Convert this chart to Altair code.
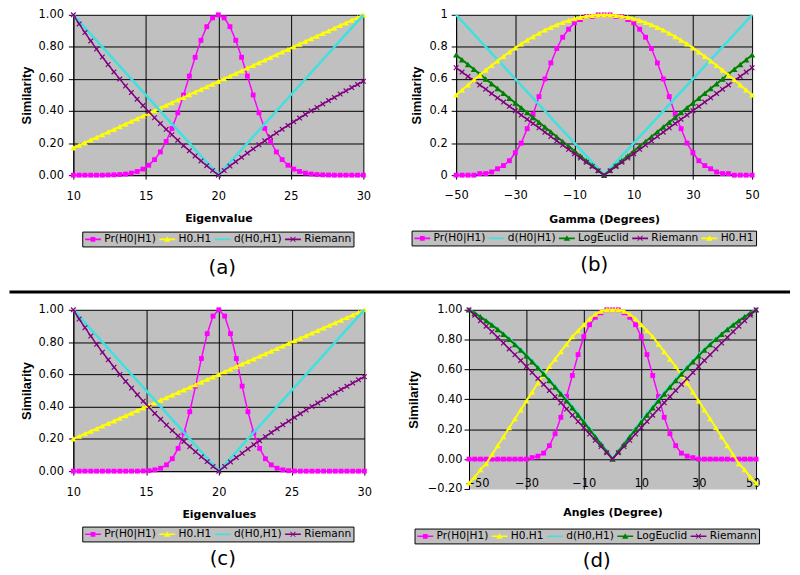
import altair as alt
import pandas as pd

# ---------------- data ----------------
eig_x = [10.0, 10.4, 10.8, 11.2, 11.6, 12.0, 12.4, 12.8, 13.2, 13.6,
         14.0, 14.4, 14.8, 15.2, 15.6, 16.0, 16.4, 16.8, 17.2, 17.6,
         18.0, 18.4, 18.8, 19.2, 19.6, 20.0, 20.4, 20.8, 21.2, 21.6,
         22.0, 22.4, 22.8, 23.2, 23.6, 24.0, 24.4, 24.8, 25.2, 25.6,
         26.0, 26.4, 26.8, 27.2, 27.6, 28.0, 28.4, 28.8, 29.2, 29.6, 30.0]
eig_v_x = [10, 20, 30]
eig_v_y = [1.0, 0.0, 1.0]

# (a) left half of the Gaussian (x = 10 .. 20)
a_pr_left = [0.000, 0.000, 0.000, 0.000, 0.000, 0.000, 0.001, 0.002, 0.004, 0.007,
             0.013, 0.023, 0.038, 0.062, 0.097, 0.145, 0.210, 0.291, 0.389, 0.500,
             0.618, 0.735, 0.841, 0.926, 0.981, 1.000]
a_h0h1 = [0.170, 0.187, 0.203, 0.220, 0.236, 0.253, 0.270, 0.286, 0.303, 0.319,
          0.336, 0.353, 0.369, 0.386, 0.402, 0.419, 0.436, 0.452, 0.469, 0.485,
          0.502, 0.519, 0.535, 0.552, 0.568, 0.585, 0.602, 0.618, 0.635, 0.651,
          0.668, 0.685, 0.701, 0.718, 0.734, 0.751, 0.768, 0.784, 0.801, 0.817,
          0.834, 0.851, 0.867, 0.884, 0.900, 0.917, 0.934, 0.950, 0.967, 0.983, 1.000]
a_riemann = [1.000, 0.943, 0.889, 0.837, 0.786, 0.737, 0.690, 0.644, 0.599, 0.556,
             0.515, 0.474, 0.434, 0.396, 0.358, 0.322, 0.286, 0.252, 0.218, 0.184,
             0.152, 0.120, 0.089, 0.059, 0.029, 0.000, 0.029, 0.057, 0.084, 0.111,
             0.138, 0.164, 0.189, 0.214, 0.239, 0.263, 0.287, 0.310, 0.333, 0.356,
             0.379, 0.401, 0.422, 0.444, 0.465, 0.485, 0.506, 0.526, 0.546, 0.566, 0.585]

# (c)
c_pr_left = [0.000, 0.000, 0.000, 0.000, 0.000, 0.000, 0.000, 0.000, 0.000, 0.000,
             0.000, 0.000, 0.001, 0.003, 0.008, 0.018, 0.039, 0.077, 0.141, 0.237,
             0.368, 0.527, 0.698, 0.852, 0.961, 1.000]
c_h0h1 = [0.200, 0.216, 0.232, 0.248, 0.264, 0.280, 0.296, 0.312, 0.328, 0.344,
          0.360, 0.376, 0.392, 0.408, 0.424, 0.440, 0.456, 0.472, 0.488, 0.504,
          0.520, 0.536, 0.552, 0.568, 0.584, 0.600, 0.616, 0.632, 0.648, 0.664,
          0.680, 0.696, 0.712, 0.728, 0.744, 0.760, 0.776, 0.792, 0.808, 0.824,
          0.840, 0.856, 0.872, 0.888, 0.904, 0.920, 0.936, 0.952, 0.968, 0.984, 1.000]
c_riemann = a_riemann

ang_x = [-50, -48, -46, -44, -42, -40, -38, -36, -34, -32, -30, -28, -26, -24, -22,
         -20, -18, -16, -14, -12, -10, -8, -6, -4, -2, 0, 2, 4, 6, 8, 10, 12, 14,
         16, 18, 20, 22, 24, 26, 28, 30, 32, 34, 36, 38, 40, 42, 44, 46, 48, 50]
ang_v_x = [-50, 0, 50]
ang_v_y = [1.0, 0.0, 1.0]

# halves for angle 0, 2, ..., 50 (curves are symmetric about 0)
b_pr_half = [1.00, 1.00, 0.99, 0.99, 0.97, 0.95, 0.91, 0.86, 0.79, 0.70, 0.60, 0.49, 0.38,
             0.29, 0.20, 0.14, 0.09, 0.06, 0.04, 0.02, 0.01, 0.01, 0.00, 0.00, 0.00, 0.00]
b_h0h1_half = [1.000, 0.999, 0.996, 0.991, 0.984, 0.976, 0.965, 0.952, 0.938, 0.922, 0.905,
               0.885, 0.864, 0.842, 0.819, 0.794, 0.768, 0.741, 0.713, 0.684, 0.655, 0.624,
               0.594, 0.563, 0.531, 0.500]
b_log_half = [0.00, 0.03, 0.06, 0.09, 0.12, 0.15, 0.18, 0.21, 0.24, 0.27, 0.30, 0.33, 0.36,
              0.39, 0.42, 0.45, 0.48, 0.51, 0.54, 0.57, 0.60, 0.63, 0.66, 0.69, 0.72, 0.75]
b_rie_half = [0.000, 0.027, 0.054, 0.080, 0.107, 0.134, 0.161, 0.188, 0.214, 0.241, 0.268,
              0.295, 0.322, 0.348, 0.375, 0.402, 0.429, 0.456, 0.482, 0.509, 0.536, 0.563,
              0.590, 0.616, 0.643, 0.670]

d_pr_half = [1.00, 1.00, 0.98, 0.95, 0.90, 0.82, 0.70, 0.56, 0.42, 0.28, 0.17, 0.09, 0.04,
             0.02, 0.01, 0.00, 0.00, 0.00, 0.00, 0.00, 0.00, 0.00, 0.00, 0.00, 0.00, 0.00]
d_h0h1_half = [1.00, 1.00, 0.99, 0.97, 0.94, 0.90, 0.86, 0.82, 0.77, 0.72, 0.67, 0.62, 0.56,
               0.51, 0.45, 0.39, 0.33, 0.27, 0.21, 0.15, 0.09, 0.03, -0.03, -0.07, -0.12, -0.16]
d_d_half = [0.000, 0.055, 0.106, 0.157, 0.207, 0.256, 0.305, 0.353, 0.400, 0.446, 0.491,
            0.535, 0.578, 0.620, 0.660, 0.699, 0.737, 0.773, 0.808, 0.841, 0.872, 0.901,
            0.929, 0.955, 0.978, 1.000]
d_log_half = [0.000, 0.050, 0.099, 0.149, 0.198, 0.247, 0.295, 0.343, 0.390, 0.436, 0.482,
              0.526, 0.569, 0.611, 0.652, 0.692, 0.730, 0.767, 0.802, 0.836, 0.868, 0.898,
              0.926, 0.953, 0.977, 1.000]
d_rie_half = [0.000, 0.042, 0.084, 0.126, 0.168, 0.210, 0.252, 0.294, 0.335, 0.377, 0.418,
              0.459, 0.500, 0.540, 0.580, 0.620, 0.660, 0.699, 0.738, 0.777, 0.815, 0.853,
              0.890, 0.927, 0.964, 1.000]


def mirror_left(left):      # x = 10..20 given -> 10..30
    return left + left[-2::-1]


def mirror_half(half):      # angle 0..50 given -> -50..50
    return half[:0:-1] + half


# ---------------- styles ----------------
BAR = "M-2,-0.2L2,-0.2L2,0.2L-2,0.2Z"
SQ = "M-0.6,-0.6L0.6,-0.6L0.6,0.6L-0.6,0.6Z"
TRI = "M0,-0.8L0.8,0.6L-0.8,0.6Z"
XX = ("M-0.7,-0.55L-0.55,-0.7L0.7,0.55L0.55,0.7Z"
      "M0.55,-0.7L0.7,-0.55L-0.55,0.7L-0.7,0.55Z")
XMARK = "M-1,-1L1,1M-1,1L1,-1"

STY = {
    "Pr(H0|H1)": dict(color="#FF00FF", lw=1.5, shape="square", size=24, filled=True, lp=BAR + SQ),
    "H0.H1": dict(color="#FFFF00", lw=2, shape="triangle-up", size=36, filled=True, lp=BAR + TRI),
    "d(H0,H1)": dict(color="#40E0E0", lw=2.5, shape=None, lp=BAR),
    "d(H0|H1)": dict(color="#40E0E0", lw=2.5, shape=None, lp=BAR),
    "LogEuclid": dict(color="#008000", lw=2, shape="triangle-up", size=40, filled=True, lp=BAR + TRI),
    "Riemann": dict(color="#800080", lw=1.5, shape=XMARK, size=22, filled=False, lp=BAR + XX),
}

LBL = dict(labelFont="DejaVu Sans", labelFontSize=11.5, labelColor="black")


def xaxis(title, values, lp, tp, **kw):
    return alt.Axis(title=title, values=values, format="d", grid=True, gridColor="black",
                    gridWidth=1, domainColor="black", tickColor="black", tickSize=4,
                    labelPadding=lp, labelOverlap=False,
                    titleFont="DejaVu Sans", titleFontSize=11, titleFontWeight="bold",
                    titleColor="black", titlePadding=tp, **LBL, **kw)


def yaxis(values, fmt, lp, tp, **kw):
    return alt.Axis(title="Similarity", values=values, format=fmt, grid=True,
                    domainColor="black", tickColor="black", tickSize=5,
                    labelPadding=lp, titleFont="Liberation Sans", titleFontSize=13,
                    titleFontWeight="bold", titleColor="black", titlePadding=tp,
                    **LBL, **kw)


def panel(series, xdom, ydom, xax, yax, lx, ly, title, toff, tdx, w, h):
    xenc = alt.X("x:Q", scale=alt.Scale(domain=xdom, nice=False, zero=False), axis=xax)
    yenc = alt.Y("y:Q", scale=alt.Scale(domain=ydom, nice=False, zero=False), axis=yax)
    layers = []
    for name, xs, ys in series:
        st = STY[name]
        base = alt.Chart(pd.DataFrame({"x": xs, "y": ys}))
        layers.append(base.mark_line(color=st["color"], strokeWidth=st["lw"]).encode(x=xenc, y=yenc))
        if st["shape"]:
            layers.append(base.mark_point(shape=st["shape"], filled=st["filled"], size=st["size"],
                                          color=st["color"], opacity=1, strokeWidth=1.2)
                          .encode(x=xenc, y=yenc))
    names = [s[0] for s in series]
    leg = alt.Legend(orient="none", legendX=lx, legendY=ly, direction="horizontal", title=None,
                     fillColor="#C0C0C0", strokeColor="black", padding=2, columnPadding=2,
                     symbolSize=64, symbolOffset=3.5, labelOffset=6, symbolStrokeWidth=0,
                     symbolOpacity=1, labelFont="DejaVu Sans", labelFontSize=10.7,
                     labelColor="black")
    layers.append(
        alt.Chart(pd.DataFrame({"series": names})).mark_point(filled=True, opacity=0).encode(
            color=alt.Color("series:N", scale=alt.Scale(domain=names,
                            range=[STY[n]["color"] for n in names]), legend=leg),
            shape=alt.Shape("series:N", scale=alt.Scale(domain=names,
                            range=[STY[n]["lp"] for n in names]), legend=leg)))
    return alt.layer(*layers).properties(
        width=w, height=h,
        title=alt.TitleParams(title, orient="bottom", anchor="middle", font="DejaVu Sans",
                              fontSize=20, fontWeight="normal", color="black",
                              offset=toff, dx=tdx),
        view=alt.ViewBackground(fill="#C0C0C0", stroke="transparent"))


y01 = [0, 0.2, 0.4, 0.6, 0.8, 1.0]
x_eig = [10, 15, 20, 25, 30]
x_ang = [-50, -30, -10, 10, 30, 50]

pa = panel([("Pr(H0|H1)", eig_x, mirror_left(a_pr_left)),
            ("H0.H1", eig_x, a_h0h1),
            ("d(H0,H1)", eig_v_x, eig_v_y),
            ("Riemann", eig_x, a_riemann)],
           [10, 30], [0, 1], xaxis("Eigenvalue", x_eig, 12, 10.7, labelFlush=False),
           yaxis(y01, ".2f", 5, 4.5, gridColor="black"),
           9, 219, "(a)", 11.5, 4, 293, 162)

pb = panel([("Pr(H0|H1)", ang_x, mirror_half(b_pr_half)),
            ("d(H0|H1)", ang_v_x, ang_v_y),
            ("LogEuclid", ang_x, mirror_half(b_log_half)),
            ("Riemann", ang_x, mirror_half(b_rie_half)),
            ("H0.H1", ang_x, mirror_half(b_h0h1_half))],
           [-50, 50], [0, 1], xaxis("Gamma (Degrees)", x_ang, 11, 12.7, labelFlush=False),
           yaxis(y01, "~g", 4, 5.7, gridColor="black"),
           -45, 218, "(b)", 9.5, -10, 299, 162)

pc = panel([("Pr(H0|H1)", eig_x, mirror_left(c_pr_left)),
            ("H0.H1", eig_x, c_h0h1),
            ("d(H0,H1)", eig_v_x, eig_v_y),
            ("Riemann", eig_x, c_riemann)],
           [10, 30], [0, 1], xaxis("Eigenvalues", x_eig, 12, 10.7, labelFlush=False),
           yaxis(y01, ".2f", 5, 4.5, gridColor="black"),
           9, 219, "(c)", 7.5, 4, 294, 163)

pd_ = panel([("Pr(H0|H1)", ang_x, mirror_half(d_pr_half)),
             ("H0.H1", ang_x, mirror_half(d_h0h1_half)),
             ("d(H0,H1)", ang_x, mirror_half(d_d_half)),
             ("LogEuclid", ang_x, mirror_half(d_log_half)),
             ("Riemann", ang_x, mirror_half(d_rie_half))],
            [-50, 50], [-0.2, 1.0],
            xaxis("Angles (Degree)", x_ang, -11, 17.7, domain=False, ticks=False,
                  labelFlush=True, labelFlushOffset=4),
            yaxis([-0.2, 0, 0.2, 0.4, 0.6, 0.8, 1.0], ".2f", 2, 6.3,
                  gridColor={"condition": {"test": "datum.value < -0.1", "value": "transparent"},
                             "value": "black"}),
            -55, 221, "(d)", 7.5, -16, 290, 181)

row1 = alt.hconcat(pa, pb, spacing=38.7).resolve_scale(color="independent", shape="independent")
row2 = alt.hconcat(pc, pd_, spacing=34.7).resolve_scale(color="independent", shape="independent")

# horizontal separator between the two rows (x relative to the left plot origin)
sep = (alt.Chart(pd.DataFrame({"k": [0]})).mark_rule(color="black", strokeWidth=3)
       .encode(x=alt.value(-64.5), x2=alt.value(724), y=alt.value(8))
       .properties(width=724, height=14,
                   view=alt.ViewBackground(fill="transparent", stroke="transparent")))

chart = (alt.vconcat(row1, sep, row2, spacing=4)
         .resolve_scale(color="independent", shape="independent")
         .properties(padding={"left": -1, "top": -3, "right": 0, "bottom": -3})
         .configure(background="white")
         .configure_view(stroke="transparent"))

chart.save("out.html", embed_options={"renderer": "svg", "actions": False})
